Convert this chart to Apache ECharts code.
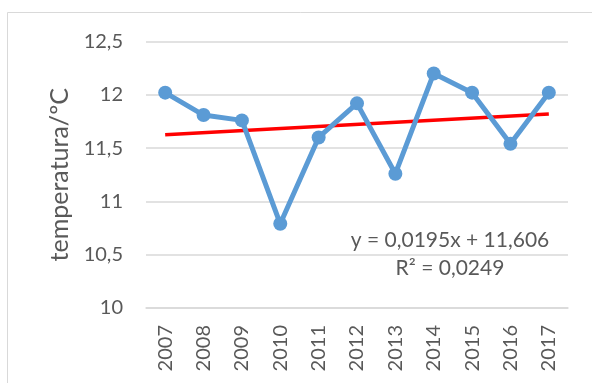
<!DOCTYPE html>
<html>
<head>
<meta charset="utf-8">
<script src="https://cdn.jsdelivr.net/npm/echarts@6/dist/echarts.min.js"></script>
<style>
  html, body { margin: 0; padding: 0; background: #fff; }
  #chart { width: 592px; height: 383px; }
</style>
</head>
<body>
<div id="chart"></div>
<script>
// Annual mean temperature, 2007-2017
const years = ['2007', '2008', '2009', '2010', '2011', '2012', '2013', '2014', '2015', '2016', '2017'];
const temperatures = [12.02, 11.81, 11.76, 10.79, 11.60, 11.92, 11.26, 12.20, 12.02, 11.54, 12.02];
const yTicks = { min: 10, max: 12.5, step: 0.5 };

// Linear trend, x = 1..n
const trendSlope = 0.0195;
const trendIntercept = 11.606;
const trendLabel = ['y = 0,0195x + 11,606', 'R² = 0,0249'];

const trend = years.map((_, i) => (i === 0 || i === years.length - 1)
  ? +(trendSlope * (i + 1) + trendIntercept).toFixed(4) : null);

const FONT = 'Lato, "Open Sans", sans-serif';
const TEXT = '#595959';

const chart = echarts.init(document.getElementById('chart'), null, { renderer: 'canvas' });
chart.setOption({
  animation: false,
  backgroundColor: '#fff',
  grid: { left: 146, right: 24, top: 41.5, bottom: 75, containLabel: false },
  xAxis: {
    type: 'category',
    data: years,
    boundaryGap: true,
    axisLine: { show: true, lineStyle: { color: '#d9d9d9', width: 1.5 } },
    axisTick: { show: false },
    axisLabel: { rotate: 90, margin: 17, color: TEXT, fontSize: 20, fontFamily: FONT }
  },
  yAxis: {
    type: 'value',
    min: yTicks.min, max: yTicks.max, interval: yTicks.step,
    name: 'temperatura/ºC',
    nameLocation: 'middle',
    nameGap: 70,
    nameRotate: 90,
    nameTextStyle: { color: TEXT, fontSize: 25, fontFamily: FONT },
    axisLine: { show: false },
    axisTick: { show: false },
    splitLine: { lineStyle: { color: '#d9d9d9', width: 1.5 } },
    axisLabel: {
      margin: 23, color: TEXT, fontSize: 20, fontFamily: FONT,
      formatter: v => String(v).replace('.', ',')
    }
  },
  series: [
    {
      type: 'line',
      data: trend,
      connectNulls: true,
      symbol: 'none',
      lineStyle: { color: '#ff0000', width: 3.5 },
      z: 2
    },
    {
      type: 'line',
      data: temperatures,
      symbol: 'circle',
      symbolSize: 14,
      itemStyle: { color: '#5b9bd5' },
      lineStyle: { color: '#5b9bd5', width: 5 },
      z: 3
    }
  ],
  graphic: [
    {
      type: 'rect',
      shape: { x: 7.5, y: 12.5, width: 700, height: 500 },
      style: { fill: 'none', stroke: '#d9d9d9', lineWidth: 1 },
      silent: true, z: -1
    },
    {
      type: 'text',
      x: 450, y: 254,
      style: {
        text: trendLabel.join('\n'),
        fill: TEXT, font: '21px ' + FONT,
        align: 'center', verticalAlign: 'middle', lineHeight: 28
      },
      z: 10
    }
  ]
});
</script>
</body>
</html>
